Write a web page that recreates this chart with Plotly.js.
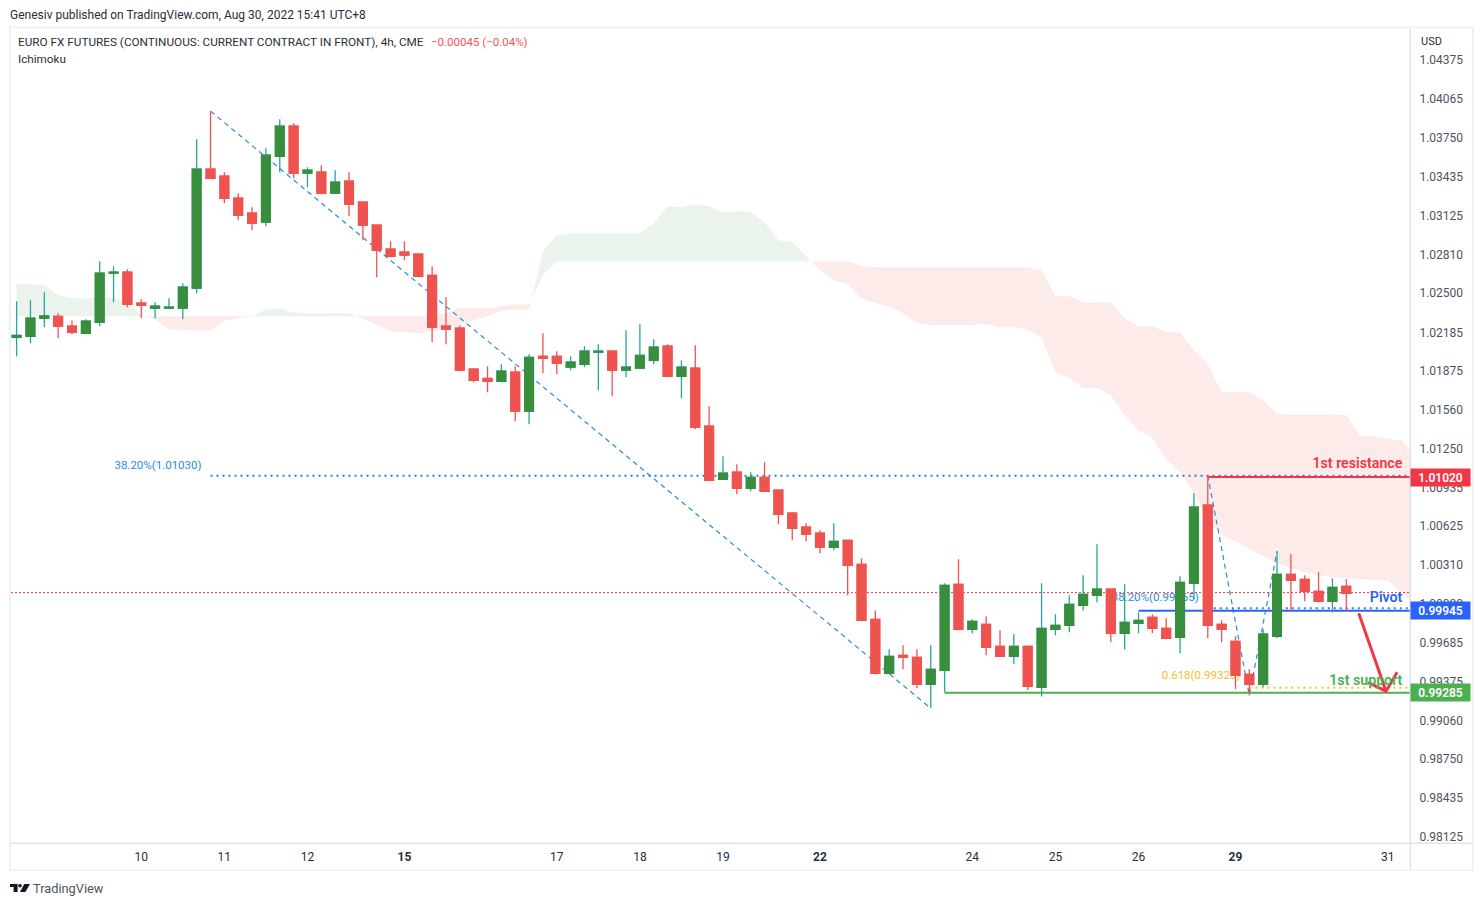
<!DOCTYPE html>
<html><head><meta charset="utf-8">
<script src="https://cdn.plot.ly/plotly-3.0.1.min.js"></script>
<style>html,body{margin:0;padding:0;background:#fff}#c{width:1484px;height:906px}</style>
</head><body><div id="c"></div>
<script>
const opens=[1.02145,1.02153,1.02298,1.02314,1.02234,1.02177,1.02266,1.02661,1.02669,1.02419,1.02379,1.02379,1.02379,1.02540,1.03498,1.03441,1.03264,1.03144,1.03071,1.03602,1.03844,1.03466,1.03474,1.03305,1.03401,1.03232,1.03047,1.02854,1.02830,1.02814,1.02644,1.02234,1.02218,1.01888,1.01815,1.01791,1.01864,1.01550,1.01992,1.01992,1.01904,1.01928,1.02025,1.02033,1.01880,1.01896,1.01960,1.02073,1.01831,1.01896,1.01429,1.01002,1.01059,1.00930,1.01018,1.00914,1.00729,1.00616,1.00568,1.00455,1.00511,1.00318,0.99875,0.99440,0.99585,0.99569,0.99352,0.99465,1.00157,0.99795,0.99835,0.99658,0.99577,0.99658,0.99328,0.99795,0.99827,0.99988,1.00068,1.00117,0.99763,0.99843,0.99891,0.99803,0.99730,1.00165,1.00793,0.99835,0.99698,0.99432,0.99352,0.99739,1.00237,1.00197,1.00100,1.00020,1.00141];
const highs=[1.02435,1.02443,1.02508,1.02339,1.02282,1.02290,1.02757,1.02717,1.02693,1.02451,1.02427,1.02459,1.02580,1.03739,1.03965,1.03474,1.03305,1.03192,1.03667,1.03900,1.03868,1.03514,1.03530,1.03490,1.03474,1.03232,1.03047,1.02918,1.02918,1.02814,1.02717,1.02467,1.02242,1.01888,1.01912,1.01928,1.01912,1.02008,1.02177,1.02033,1.01992,1.02073,1.02089,1.02041,1.02202,1.02250,1.02129,1.02089,1.01960,1.02081,1.01590,1.01187,1.01123,1.01059,1.01139,1.00914,1.00737,1.00648,1.00592,1.00648,1.00511,1.00366,0.99947,0.99634,0.99666,0.99634,0.99666,1.00165,1.00358,0.99875,0.99899,0.99787,0.99755,0.99658,1.00165,0.99915,1.00068,1.00229,1.00479,1.00117,1.00157,0.99931,0.99915,0.99883,1.00221,1.00890,1.01034,0.99867,0.99739,0.99473,0.99795,1.00423,1.00398,1.00229,1.00253,1.00205,1.00197];
const lows=[1.01992,1.02097,1.02226,1.02137,1.02169,1.02169,1.02234,1.02427,1.02387,1.02298,1.02298,1.02379,1.02290,1.02500,1.03425,1.03224,1.03087,1.03007,1.03039,1.03474,1.03425,1.03353,1.03297,1.03305,1.03119,1.02926,1.02628,1.02789,1.02765,1.02628,1.02105,1.02089,1.01872,1.01783,1.01703,1.01783,1.01469,1.01445,1.01856,1.01848,1.01880,1.01904,1.01719,1.01670,1.01823,1.01896,1.01928,1.01823,1.01654,1.01405,1.00986,1.01002,1.00882,1.00906,1.00906,1.00640,1.00511,1.00503,1.00406,1.00431,1.00068,0.99867,0.99432,0.99440,0.99473,0.99320,0.99159,0.99288,0.99787,0.99763,0.99585,0.99577,0.99513,0.99304,0.99255,0.99747,0.99771,0.99947,1.00012,0.99690,0.99634,0.99763,0.99763,0.99714,0.99602,1.00036,0.99722,0.99690,0.99312,0.99263,0.99328,0.99722,0.99939,1.00020,1.00012,0.99931,0.99939];
const closes=[1.02161,1.02298,1.02317,1.02234,1.02186,1.02274,1.02661,1.02669,1.02411,1.02403,1.02395,1.02387,1.02548,1.03498,1.03425,1.03264,1.03127,1.03063,1.03610,1.03844,1.03466,1.03490,1.03305,1.03393,1.03216,1.03047,1.02846,1.02797,1.02806,1.02636,1.02226,1.02210,1.01880,1.01799,1.01791,1.01872,1.01550,1.01984,1.01976,1.01936,1.01944,1.02033,1.02033,1.01880,1.01904,1.02000,1.02065,1.01831,1.01904,1.01421,1.00994,1.01051,1.00930,1.01018,1.00906,1.00720,1.00608,1.00560,1.00455,1.00503,1.00310,0.99867,0.99440,0.99577,0.99569,0.99352,0.99473,1.00149,0.99795,0.99859,0.99650,0.99577,0.99658,0.99336,0.99803,0.99827,0.99996,1.00076,1.00117,0.99763,0.99851,0.99867,0.99803,0.99722,1.00173,1.00777,0.99827,0.99795,0.99424,0.99352,0.99755,1.00237,1.00189,1.00100,1.00020,1.00133,1.00084];

const spanA=[1.02574,1.02574,1.02564,1.02483,1.02462,1.02457,1.02465,1.02467,1.02427,1.02323,1.02290,1.02207,1.02202,1.02199,1.02199,1.02277,1.02301,1.02309,1.02371,1.02376,1.02344,1.02336,1.02339,1.02339,1.02339,1.02296,1.02242,1.02194,1.02188,1.02177,1.02194,1.02218,1.02242,1.02282,1.02314,1.02363,1.02368,1.02368,1.02838,1.02966,1.02983,1.02983,1.02983,1.02983,1.02983,1.02983,1.03063,1.03200,1.03192,1.03216,1.03200,1.03152,1.03160,1.03152,1.03071,1.02926,1.02910,1.02797,1.02685,1.02604,1.02572,1.02459,1.02419,1.02395,1.02339,1.02260,1.02244,1.02244,1.02244,1.02244,1.02252,1.02226,1.02226,1.02210,1.02140,1.01866,1.01815,1.01737,1.01737,1.01676,1.01517,1.01397,1.01335,1.01163,1.01059,1.00890,1.00688,1.00551,1.00503,1.00439,1.00382,1.00326,1.00286,1.00253,1.00229,1.00213,1.00205,1.00197,1.00193,1.00189,1.00092,0.99988];
const spanB=[1.02314,1.02314,1.02314,1.02314,1.02314,1.02314,1.02314,1.02314,1.02314,1.02314,1.02314,1.02314,1.02314,1.02314,1.02314,1.02314,1.02314,1.02314,1.02314,1.02314,1.02314,1.02314,1.02314,1.02314,1.02314,1.02314,1.02314,1.02314,1.02314,1.02314,1.02314,1.02339,1.02383,1.02383,1.02379,1.02395,1.02411,1.02411,1.02644,1.02757,1.02757,1.02757,1.02757,1.02757,1.02757,1.02757,1.02757,1.02757,1.02757,1.02757,1.02757,1.02757,1.02757,1.02757,1.02757,1.02757,1.02757,1.02757,1.02757,1.02757,1.02757,1.02717,1.02709,1.02709,1.02709,1.02709,1.02709,1.02709,1.02709,1.02709,1.02709,1.02709,1.02709,1.02709,1.02685,1.02475,1.02475,1.02427,1.02427,1.02427,1.02298,1.02234,1.02234,1.02186,1.02186,1.02041,1.01928,1.01703,1.01703,1.01703,1.01638,1.01525,1.01525,1.01525,1.01525,1.01525,1.01517,1.01348,1.01348,1.01324,1.01316,1.01187];

const xTickBars=[9,15,21,28,39,45,51,58,69,75,81,88,99];
const xTickText=['10','11','12','<b>15</b>','17','18','19','<b>22</b>','24','25','26','<b>29</b>','31'];
const yTickVals=[1.04375,1.04065,1.0375,1.03435,1.03125,1.0281,1.025,1.02185,1.01875,1.0156,1.0125,1.00935,1.00625,1.0031,1.0,0.99685,0.99375,0.9906,0.9875,0.98435,0.98125];
const yTickText=['1.04375','1.04065','1.03750','1.03435','1.03125','1.02810','1.02500','1.02185','1.01875','1.01560','1.01250','1.00935','1.00625','1.00310','1.00000','0.99685','0.99375','0.99060','0.98750','0.98435','0.98125'];

const fibDownBars=[14,66], fibDownPrices=[1.03965,0.99159];
const fibZigBars=[86,89,91], fibZigPrices=[1.01034,0.99263,1.00423];
const arrowBars=[96.9,98.87,null,97.57,98.87,99.67], arrowPrices=[0.99924,0.99296,null,0.99368,0.99296,0.99449];
const priceLine=1.00090, fib382a=1.01030, fib382b=0.99965, fib618=0.99325;
const resistance=1.01020, pivot=0.99945, support=0.99285;
const xEnd=100.6, xStart=-0.404, yTop=1.04626, yBot=0.98075;

const W=1484,H=906,mL=11,mR=74,mT=29,mB=63;
const px=x=>(x-mL)/(W-mL-mR), py=y=>1-(y-mT)/(H-mT-mB);
const FONT='Roboto, sans-serif', bars=opens.map((_,i)=>i);

const traces=[];
function cloud(xs,a,b,color){
  traces.push({type:'scatter',mode:'lines',x:xs.concat(xs.slice().reverse()),y:a.concat(b.slice().reverse()),
    fill:'toself',fillcolor:color,line:{width:0},hoverinfo:'skip',showlegend:false});
}
let rx=[],ra=[],rb=[],sign=Math.sign(spanA[0]-spanB[0]);
const flush=()=>{cloud(rx,ra,rb,sign>0?'#ebf4ec':'#fdebe9');};
spanA.forEach((v,i)=>{
  const s=Math.sign(v-spanB[i])||sign;
  if(s!==sign){
    const d0=spanA[i-1]-spanB[i-1], d1=v-spanB[i], t=d0/(d0-d1);
    const cx=i-1+t, cy=spanB[i-1]+t*(spanB[i]-spanB[i-1]);
    rx.push(cx);ra.push(cy);rb.push(cy);flush();
    rx=[cx];ra=[cy];rb=[cy];sign=s;
  }
  rx.push(i);ra.push(v);rb.push(spanB[i]);
});
flush();

function line(xs,ys,color,width,dash){
  traces.push({type:'scatter',mode:'lines',x:xs,y:ys,line:{color,width,dash:dash||'solid'},hoverinfo:'skip',showlegend:false,connectgaps:false});
}
function label(x,y,text,color,size,weight){
  traces.push({type:'scatter',mode:'text',x:[x],y:[y],text:[text],textposition:'middle left',
    textfont:{family:FONT,size,color,weight:weight||400},hoverinfo:'skip',showlegend:false,cliponaxis:false});
}
line([xStart,xEnd],[priceLine,priceLine],'#f23645',1,'2px,2px');
line(fibDownBars,fibDownPrices,'#2a8be0',1.2,'5px,4px');
line([14,xEnd],[fib382a,fib382a],'#2a80d8',2,'2px,4px');
line(fibZigBars,fibZigPrices,'#2a8be0',1.2,'5px,4px');
line([86,xEnd],[fib382b,fib382b],'#2a80d8',2,'2px,4px');
line([89,xEnd],[fib618,fib618],'#fcc02e',2,'2px,4px');
line([86,xEnd],[resistance,resistance],'#f23645',2);
line([81,xEnd],[pivot,pivot],'#2962ff',2);
line([67,xEnd],[support,support],'#4caf50',2);
line(arrowBars,arrowPrices,'#f23645',3);
label(13.35,1.01107,'38.20%(1.01030)','#2a8be0',11.5);
label(85.35,1.00044,'38.20%(0.99965)','#2a8be0',11.5);
label(88.35,0.99416,'0.618(0.99325)','#fbbc2e',11.5);
label(100.05,1.01123,'1st resistance','#f23645',14.2,600);
label(100.05,1.00044,'Pivot','#2962ff',14.2,600);
label(100.05,0.99376,'1st support','#4caf50',14.2,600);

const up='#388e3c',wickUp='#26a69a',dn='#ef5350';
traces.push({type:'candlestick',xaxis:'x2',yaxis:'y2',x:bars,open:opens,high:highs,low:lows,close:closes,
  increasing:{line:{color:wickUp,width:1.3},fillcolor:up},decreasing:{line:{color:dn,width:1.3},fillcolor:dn},
  hoverinfo:'skip',showlegend:false});
traces.push({type:'candlestick',xaxis:'x2',yaxis:'y2',x:bars,open:opens,close:closes,
  high:opens.map((o,i)=>Math.max(o,closes[i])),low:opens.map((o,i)=>Math.min(o,closes[i])),
  increasing:{line:{color:up,width:1.3},fillcolor:up},decreasing:{line:{color:dn,width:1.3},fillcolor:dn},
  hoverinfo:'skip',showlegend:false});

function ann(x,y,text,size,color,extra){
  return Object.assign({xref:'paper',yref:'paper',x:px(x),y:py(y),text,showarrow:false,xanchor:'left',yanchor:'middle',
    font:{family:FONT,size,color},borderpad:0},extra||{});
}
function tag(price,text,color){
  return {xref:'paper',yref:'y',x:1,y:price,xanchor:'left',yanchor:'middle',text,showarrow:false,width:59,height:17,
    bgcolor:color,borderpad:0,align:'center',font:{family:FONT,size:12,color:'#fff',weight:600}};
}
const annotations=[
  ann(9,15,'Genesiv published on TradingView.com, Aug 30, 2022 15:41 UTC+8',12,'#2a2e39'),
  ann(17,42,'EURO FX FUTURES (CONTINUOUS: CURRENT CONTRACT IN FRONT), 4h, CME',11.75,'#2a2e39'),
  ann(430,42,'−0.00045 (−0.04%)',11.5,'#f7525f'),
  ann(17,59,'Ichimoku',11.7,'#2a2e39'),
  ann(1419.5,41,'USD',11,'#2a2e39'),
  ann(32,888,'TradingView',12.8,'#50535e'),
  tag(resistance,'1.01020','#f23645'),
  tag(pivot,'0.99945','#2962ff'),
  tag(support,'0.99285','#4caf50'),
];
const frame='#f0f1f5', sep='#e0e3eb';
const rect=(a,b,c,d,col)=>({type:'rect',xref:'paper',yref:'paper',x0:px(a),x1:px(c),y0:py(b),y1:py(d),fillcolor:col,line:{width:0},layer:'above'});
const pathOf=pts=>'M'+pts.map(p=>px(p[0])+' '+py(p[1])).join('L')+'Z';
const shapes=[
  rect(9,26.5,11,871,frame),rect(9,26.5,1474,28.5,frame),rect(1472,26.5,1474,871,frame),rect(9,869.5,1474,871,frame),
  rect(11,842.5,1472,844,sep),rect(1409.5,28.5,1411,869.5,sep),
  {type:'path',xref:'paper',yref:'paper',path:pathOf([[10,884],[17.6,884],[17.6,892],[13.6,892],[13.6,887],[10,887]]),fillcolor:'#131722',line:{width:0}},
  {type:'circle',xref:'paper',yref:'paper',x0:px(18.2),x1:px(21.8),y0:py(884),y1:py(887.6),fillcolor:'#131722',line:{width:0}},
  {type:'path',xref:'paper',yref:'paper',path:pathOf([[24.2,884],[30,884],[25.4,892],[20,892]]),fillcolor:'#131722',line:{width:0}},
];
const layout={
  width:W,height:H,margin:{l:mL,r:mR,t:mT,b:mB,autoexpand:false},paper_bgcolor:'#fff',plot_bgcolor:'#fff',
  showlegend:false,hovermode:false,dragmode:false,annotations,shapes,boxgap:0.1,
  xaxis:{range:[xStart,xEnd],tickvals:xTickBars,ticktext:xTickText,showgrid:false,zeroline:false,showline:false,
    ticks:'outside',ticklen:3,tickcolor:'rgba(0,0,0,0)',tickfont:{family:FONT,size:12,color:'#2a2e39'},fixedrange:true,tickangle:0,rangeslider:{visible:false}},
  yaxis:{range:[yBot,yTop],side:'right',tickvals:yTickVals,ticktext:yTickText,showgrid:false,zeroline:false,showline:false,
    ticks:'outside',ticklen:6,tickcolor:'rgba(0,0,0,0)',tickfont:{family:FONT,size:12,color:'#50535e'},fixedrange:true},
  xaxis2:{overlaying:'x',range:[xStart,xEnd],visible:false,fixedrange:true,rangeslider:{visible:false}},
  yaxis2:{overlaying:'y',range:[yBot,yTop],visible:false,fixedrange:true},
};
Plotly.newPlot('c',traces,layout,{displayModeBar:false,staticPlot:true});
</script></body></html>
